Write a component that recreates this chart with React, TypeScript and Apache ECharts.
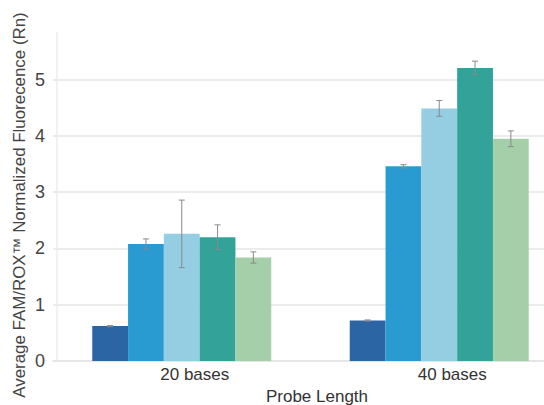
import React, { useEffect, useRef } from "react";
import * as echarts from "echarts";

const categories = ["20 bases", "40 bases"];
const yTicks = [0, 1, 2, 3, 4, 5];
const seriesColors = ["#2b65a3", "#2a9bd0", "#95cde3", "#33a39a", "#a4cfa9"];
const seriesValues = [
  [0.62, 0.72],
  [2.08, 3.46],
  [2.26, 4.49],
  [2.2, 5.21],
  [1.84, 3.95],
];
const seriesErrors = [
  [0.01, 0.01],
  [0.09, 0.03],
  [0.6, 0.14],
  [0.22, 0.12],
  [0.1, 0.14],
];
const yTitle = "Average FAM/ROX\u2122 Normalized Fluorecence (Rn)";
const xTitle = "Probe Length";

const BW = 35.8;
const FONT = "'Liberation Sans', Arial, sans-serif";

export default function App() {
  const ref = useRef<HTMLDivElement>(null);
  useEffect(() => {
    if (!ref.current) return;
    const chart = echarts.init(ref.current, undefined, { renderer: "svg" });
    const barSeries = seriesValues.map((vals, i) => ({
      type: "bar",
      data: vals,
      barWidth: BW,
      barGap: "0%",
      itemStyle: { color: seriesColors[i] },
      z: 2,
    }));
    const errSeries = seriesValues.map((vals, i) => ({
      type: "custom",
      z: 5,
      data: vals.map((v, k) => [k, v, seriesErrors[i][k]]),
      encode: { x: 0, y: 1 },
      renderItem: (params: any, api: any) => {
        const cat = api.value(0);
        const v = api.value(1);
        const e = api.value(2);
        const c = api.coord([cat, v]);
        const x = c[0] + (i - 2) * BW;
        const top = api.coord([cat, v + e])[1];
        const bot = api.coord([cat, v - e])[1];
        const st = { stroke: "#8a8a8a", lineWidth: 1 };
        return {
          type: "group",
          children: [
            { type: "line", shape: { x1: x, y1: top, x2: x, y2: bot }, style: st },
            { type: "line", shape: { x1: x - 3, y1: top, x2: x + 3, y2: top }, style: st },
            { type: "line", shape: { x1: x - 3, y1: bot, x2: x + 3, y2: bot }, style: st },
          ],
        };
      },
    }));
    const nTicks = 7;
    const splitColors = Array.from({ length: nTicks }, (_, k) =>
      k === nTicks - 1 ? "rgba(0,0,0,0)" : "#e6e6e6"
    );
    chart.setOption({
      animation: false,
      backgroundColor: "#ffffff",
      grid: { left: 53, top: 33, bottom: 44, width: 515 },
      xAxis: {
        type: "category",
        data: categories,
        axisLine: { show: true, lineStyle: { color: "#e3e3e3", width: 1.5 } },
        axisTick: { show: false },
        axisLabel: {
          fontSize: 17,
          color: "#333",
          fontFamily: FONT,
          margin: 5,
          padding: [0, 0, 0, 26],
        },
      },
      yAxis: {
        type: "value",
        min: 0,
        max: 5.83,
        interval: 1,
        offset: -4,
        axisLine: { show: true, lineStyle: { color: "#ececec", width: 1.5 } },
        axisTick: { show: false },
        axisLabel: {
          fontSize: 18,
          color: "#444",
          fontFamily: FONT,
          margin: 12,
          formatter: (v: number) => (yTicks.includes(v) ? String(v) : ""),
        },
        splitLine: { show: true, lineStyle: { color: splitColors, width: 1.5 } },
      },
      graphic: [
        {
          type: "text",
          x: 19,
          y: 205,
          rotation: Math.PI / 2,
          style: {
            text: yTitle,
            fontSize: 16.9,
            fontFamily: FONT,
            fill: "#444",
            align: "center",
            verticalAlign: "middle",
          },
        },
        {
          type: "text",
          x: 317,
          y: 396,
          style: {
            text: xTitle,
            fontSize: 17,
            fontFamily: FONT,
            fill: "#333",
            align: "center",
            verticalAlign: "middle",
          },
        },
      ],
      series: [...barSeries, ...errSeries],
    });
    return () => chart.dispose();
  }, []);
  return (
    <div style={{ width: 544, height: 405, position: "absolute", left: 0, top: 0, overflow: "hidden" }}>
      <div ref={ref} style={{ width: 600, height: 405 }} />
    </div>
  );
}
